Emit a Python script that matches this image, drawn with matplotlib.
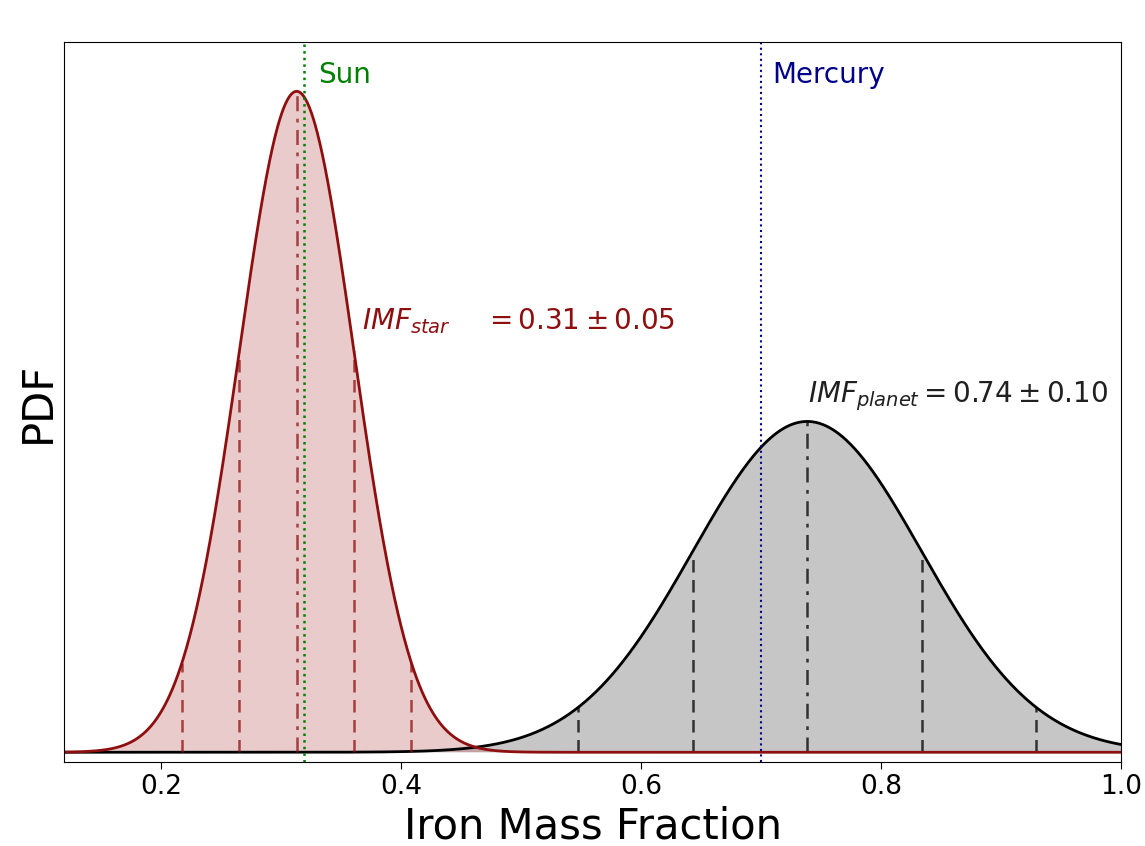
import numpy as np
import matplotlib
matplotlib.use("Agg")
import matplotlib.pyplot as plt

star_mean, star_sigma = 0.313, 0.0478
planet_mean, planet_sigma = 0.7385, 0.0955
star_label = r'$IMF_{star}$    $= 0.31 \pm 0.05$'
planet_label = r'$IMF_{planet} = 0.74 \pm 0.10$'
sun_fe = 0.319
mercury_fe = 0.70
xticks = [0.2, 0.4, 0.6, 0.8, 1.0]
sigma_steps = [-2, -1, 0, 1, 2]

star_col = '#8e0f0f'
planet_col = 'black'


def gauss(x, mu, s):
    return np.exp(-0.5 * ((x - mu) / s) ** 2) / (s * np.sqrt(2 * np.pi))


def draw_pdf(ax, mu, s, col, fill, alpha):
    x = np.linspace(0.0, 1.1, 2000)
    y = gauss(x, mu, s)
    ax.fill_between(x, 0, y, color=fill, alpha=alpha, lw=0)
    ax.plot(x, y, color=col, lw=2)
    for k in sigma_steps:
        xv = mu + k * s
        ls = (0, (6, 3, 1.5, 3)) if k == 0 else (0, (5, 3))
        ax.plot([xv, xv], [0, gauss(xv, mu, s)], color=col, lw=1.8,
                ls=ls, alpha=0.75)


fig = plt.figure(figsize=(11.45, 8.46), dpi=100)
ax = fig.add_axes([0.056, 0.099, 0.923, 0.851])

draw_pdf(ax, planet_mean, planet_sigma, planet_col, '#a0a0a0', 0.6)
draw_pdf(ax, star_mean, star_sigma, star_col, '#b85555', 0.3)

ax.axvline(sun_fe, color='green', ls=':', lw=1.8)
ax.axvline(mercury_fe, color='darkblue', ls=':', lw=1.5)
ax.text(0.331, 8.55, 'Sun', color='green', fontsize=20, va='center')
ax.text(0.709, 8.55, 'Mercury', color='darkblue', fontsize=20, va='center')
ax.text(0.3675, 5.45, star_label, color=star_col, fontsize=20, va='center')
ax.text(0.739, 4.5, planet_label, color='#202020', fontsize=20, va='center')

ax.set_xlim(0.1192, 1.0)
ax.set_ylim(-0.126, 8.965)
ax.set_xticks(xticks)
ax.set_xticklabels([f'{v:.1f}' for v in xticks])
ax.set_yticks([])
ax.tick_params(axis='x', labelsize=19, length=5)
ax.set_xlabel('Iron Mass Fraction', fontsize=30)
ax.set_ylabel('PDF', fontsize=30)

fig.savefig('out.png', dpi=100)
